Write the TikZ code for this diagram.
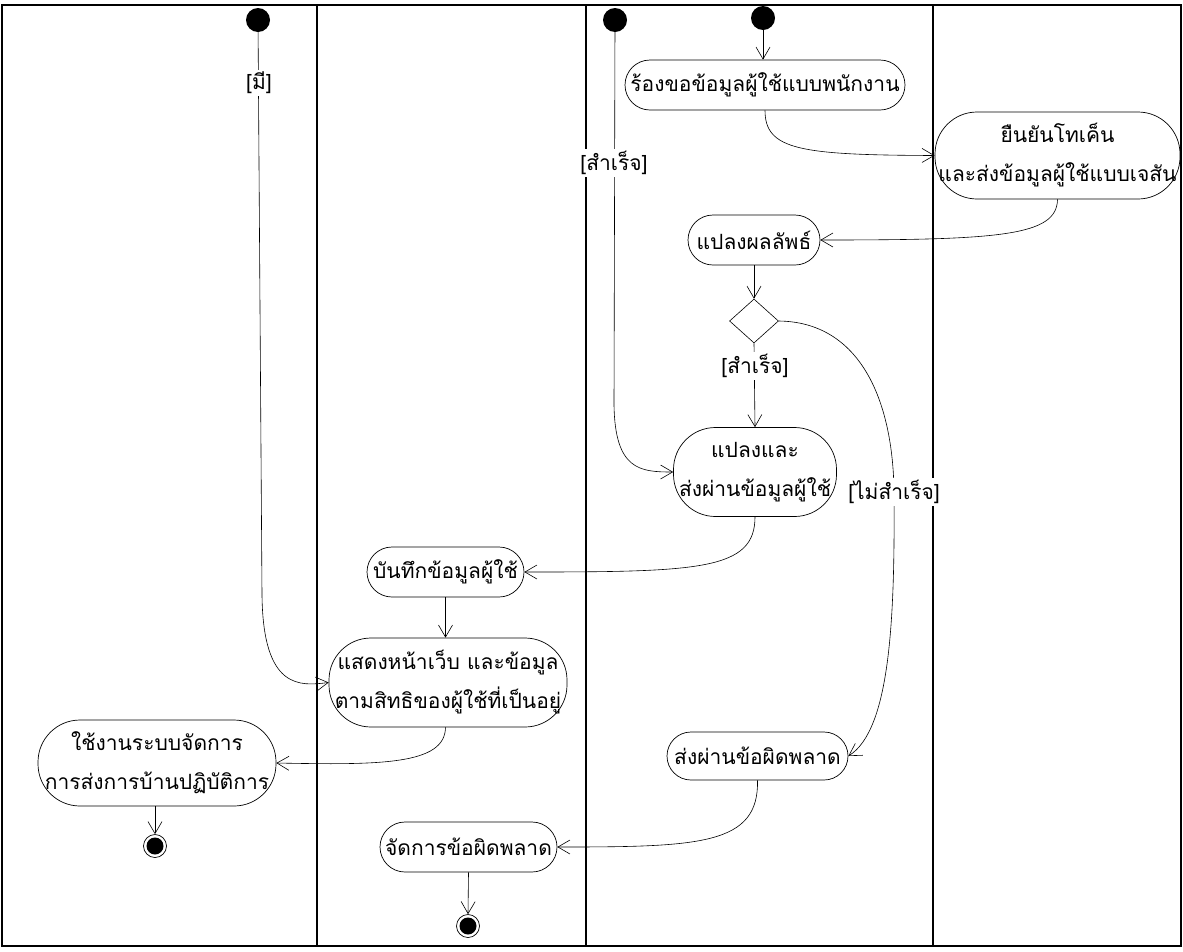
\documentclass[tikz,border=0pt]{standalone}
\usepackage{fontspec}
\newfontfamily\thaifont[Script=Thai]{Loma}
\usetikzlibrary{arrows.meta,shapes.geometric}
\begin{document}
\begin{tikzpicture}[x=1pt,y=-1pt,
  txt/.style={font=\thaifont\fontsize{21}{39}\selectfont},
  act/.style={txt, draw, line width=0.7pt, rounded corners=#1, inner sep=0pt, align=center},
  guard/.style={txt, fill=white, inner sep=2pt},
  flow/.style={line width=0.6pt, -{Straight Barb[length=12pt,width=14pt,line width=0.6pt]}},
  startnode/.style={circle, fill=black, minimum size=24pt, inner sep=0pt},
  endring/.style={circle, draw, line width=0.7pt, fill=white, minimum size=23pt, inner sep=0pt},
  enddot/.style={circle, fill=black, minimum size=17pt, inner sep=0pt},
  lane/.style={line width=1.4pt}]
\useasboundingbox (0,0) rectangle (1183,951);

% swimlanes
\draw[lane] (2,5) rectangle (1181,946);
\foreach \xl in {317,586,933} \draw[lane] (\xl,5) -- (\xl,946);

% initial nodes
\node[startnode] (s1) at (258,20) {};
\node[startnode] (s2) at (615,20) {};
\node[startnode] (s3) at (763,18) {};

% actions
\node[act=25, minimum width=280pt, minimum height=50pt] (req) at (765,85) {ร้องขอข้อมูลผู้ใช้แบบพนักงาน};
\node[act=42, minimum width=245pt, minimum height=87pt] (conf) at (1057.5,155.5) {ยืนยันโทเค็น\\และส่งข้อมูลผู้ใช้แบบเจสัน};
\node[act=25, minimum width=132pt, minimum height=50pt] (conv) at (754,240) {แปลงผลลัพธ์};
\node[diamond, draw, line width=0.6pt, minimum width=49pt, minimum height=44pt, inner sep=0pt] (dec) at (754,321) {};
\node[act=42, minimum width=163pt, minimum height=89pt] (pass) at (755,472) {แปลงและ\\ส่งผ่านข้อมูลผู้ใช้};
\node[act=24, minimum width=181pt, minimum height=48pt] (err) at (757.5,756) {ส่งผ่านข้อผิดพลาด};
\node[act=25, minimum width=157pt, minimum height=50pt] (save) at (445.5,572) {บันทึกข้อมูลผู้ใช้};
\node[act=42, minimum width=238pt, minimum height=89pt] (show) at (448,682.5) {แสดงหน้าเว็บ และข้อมูล\\ตามสิทธิของผู้ใช้ที่เป็นอยู่};
\node[act=42, minimum width=238pt, minimum height=86pt] (use) at (157,763) {ใช้งานระบบจัดการ\\การส่งการบ้านปฏิบัติการ};
\node[act=25, minimum width=177pt, minimum height=50pt] (handle) at (468.5,847) {จัดการข้อผิดพลาด};

% final nodes
\node[endring] (e1) at (155,846) {};
\node[enddot] at (e1) {};
\node[endring] (e2) at (468,926) {};
\node[enddot] at (e2) {};

% bend points
\coordinate (k1) at (262,595);
\coordinate (k2) at (614,405);
\coordinate (k8) at (894,492);

% flows
\draw[flow] (s1) -- (k1) .. controls (263,690) and (300,686) .. (show.west);
\node[guard] at (259,83) {[มี]};

\draw[flow] (s2) -- (k2) .. controls (615,470) and (640,472) .. (pass.west);
\node[guard] at (614,163) {[สำเร็จ]};

\draw[flow] (s3) -- (req.north -| s3);
\draw[flow] (req.south) .. controls (765,150) and (800,155) .. (conf.west);
\draw[flow] (conf.south) .. controls (1057,236) and (1000,240) .. (conv.east);
\draw[flow] (conv.south) -- (dec.north);
\draw[flow] (dec.south) -- (pass.north);
\node[guard] at (755,366) {[สำเร็จ]};

\draw[flow] (dec.east) .. controls (860,322) and (893,400) .. (k8) .. controls (895,620) and (890,730) .. (err.east);
\node[guard] at (k8) {[ไม่สำเร็จ]};

\draw[flow] (pass.south) .. controls (755,570) and (700,572) .. (save.east);
\draw[flow] (save.south) -- (show.north -| save.south);
\draw[flow] (show.south -| save.south) .. controls (445,765) and (380,765) .. (use.east);
\draw[flow] (use.south -| e1) -- (e1.north);
\draw[flow] (err.south) .. controls (759,845) and (700,847) .. (handle.east);
\draw[flow] (handle.south) -- (e2.north);
\end{tikzpicture}
\end{document}
